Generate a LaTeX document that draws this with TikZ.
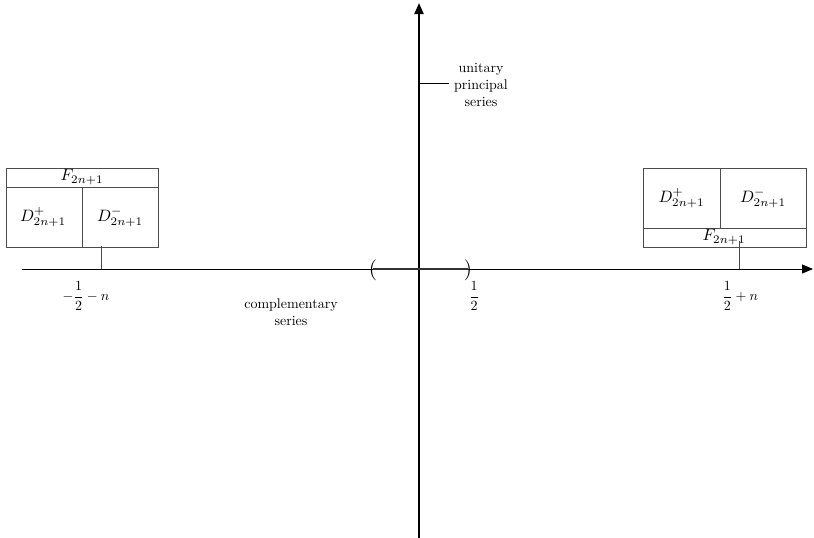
\documentclass[tikz,border=0pt]{standalone}
\usepackage{amsmath}
\usetikzlibrary{arrows.meta}
\tikzset{
    lbl/.style={scale=1.4, inner sep=1pt},
    cell/.style={scale=1.65, inner sep=0pt},
    boxline/.style={black!70, line width=0.8pt},
    axis/.style={line width=0.8pt, -{Triangle[length=11pt,width=9pt]}}
}
\begin{document}
\begin{tikzpicture}[x=1pt, y=-1pt]
    \useasboundingbox (0,0) rectangle (814,538);

    % axes
    \coordinate (xl) at (22,269);
    \coordinate (xr) at (813,269);
    \coordinate (yb) at (419,538);
    \coordinate (yt) at (419,3);
    \draw[axis] (xl) -- (xr);
    \draw[axis, line width=2pt] (yb) -- (yt);

    % complementary interval
    \node[scale=2.1, inner sep=0pt] (lp) at (373,270) {(};
    \node[scale=2.1, inner sep=0pt] (rp) at (468,270) {)};
    \draw[line width=2pt, black!80] (lp.center |- xl) -- (rp.center |- xl);

    % left box
    \draw[boxline] (6,168) rectangle (158,247);
    \draw[boxline] (6,187) -- (158,187);
    \draw[boxline] (82,187) -- (82,247);
    \node[cell] (fl) at (82,177) {$F_{2n+1}$};
    \node[cell] (dpl) at (43,217) {$D^+_{2n+1}$};
    \node[cell] (dml) at (120,217) {$D^-_{2n+1}$};
    \coordinate (tl) at (101,246);
    \coordinate (al) at (101,269);
    \draw[boxline] (tl) -- (al);

    % right box
    \draw[boxline] (643,168) rectangle (806,247);
    \draw[boxline] (643,228) -- (806,228);
    \draw[boxline] (720,168) -- (720,228);
    \node[cell] (dpr) at (681.5,198) {$D^+_{2n+1}$};
    \node[cell] (dmr) at (763,198) {$D^-_{2n+1}$};
    \node[cell] (fr) at (724,237) {$F_{2n+1}$};
    \coordinate (tr) at (739,241);
    \coordinate (ar) at (739,269);
    \draw[boxline] (tr) -- (ar);

    % axis labels
    \node[lbl] (ml) at (86,296) {$-\dfrac{1}{2}-n$};
    \node[lbl] (half) at (474,296) {$\dfrac{1}{2}$};
    \node[lbl] (mr) at (740,296) {$\dfrac{1}{2}+n$};

    \node[lbl, align=center] (comp) at (291,312) {complementary\\series};
    \node[lbl, align=center] (unit) at (481,85) {unitary\\principal\\series};
    \coordinate (ua) at (420,83);
    \draw[line width=0.8pt] (ua) -- ([xshift=-3pt]unit.west |- ua);
\end{tikzpicture}
\end{document}
